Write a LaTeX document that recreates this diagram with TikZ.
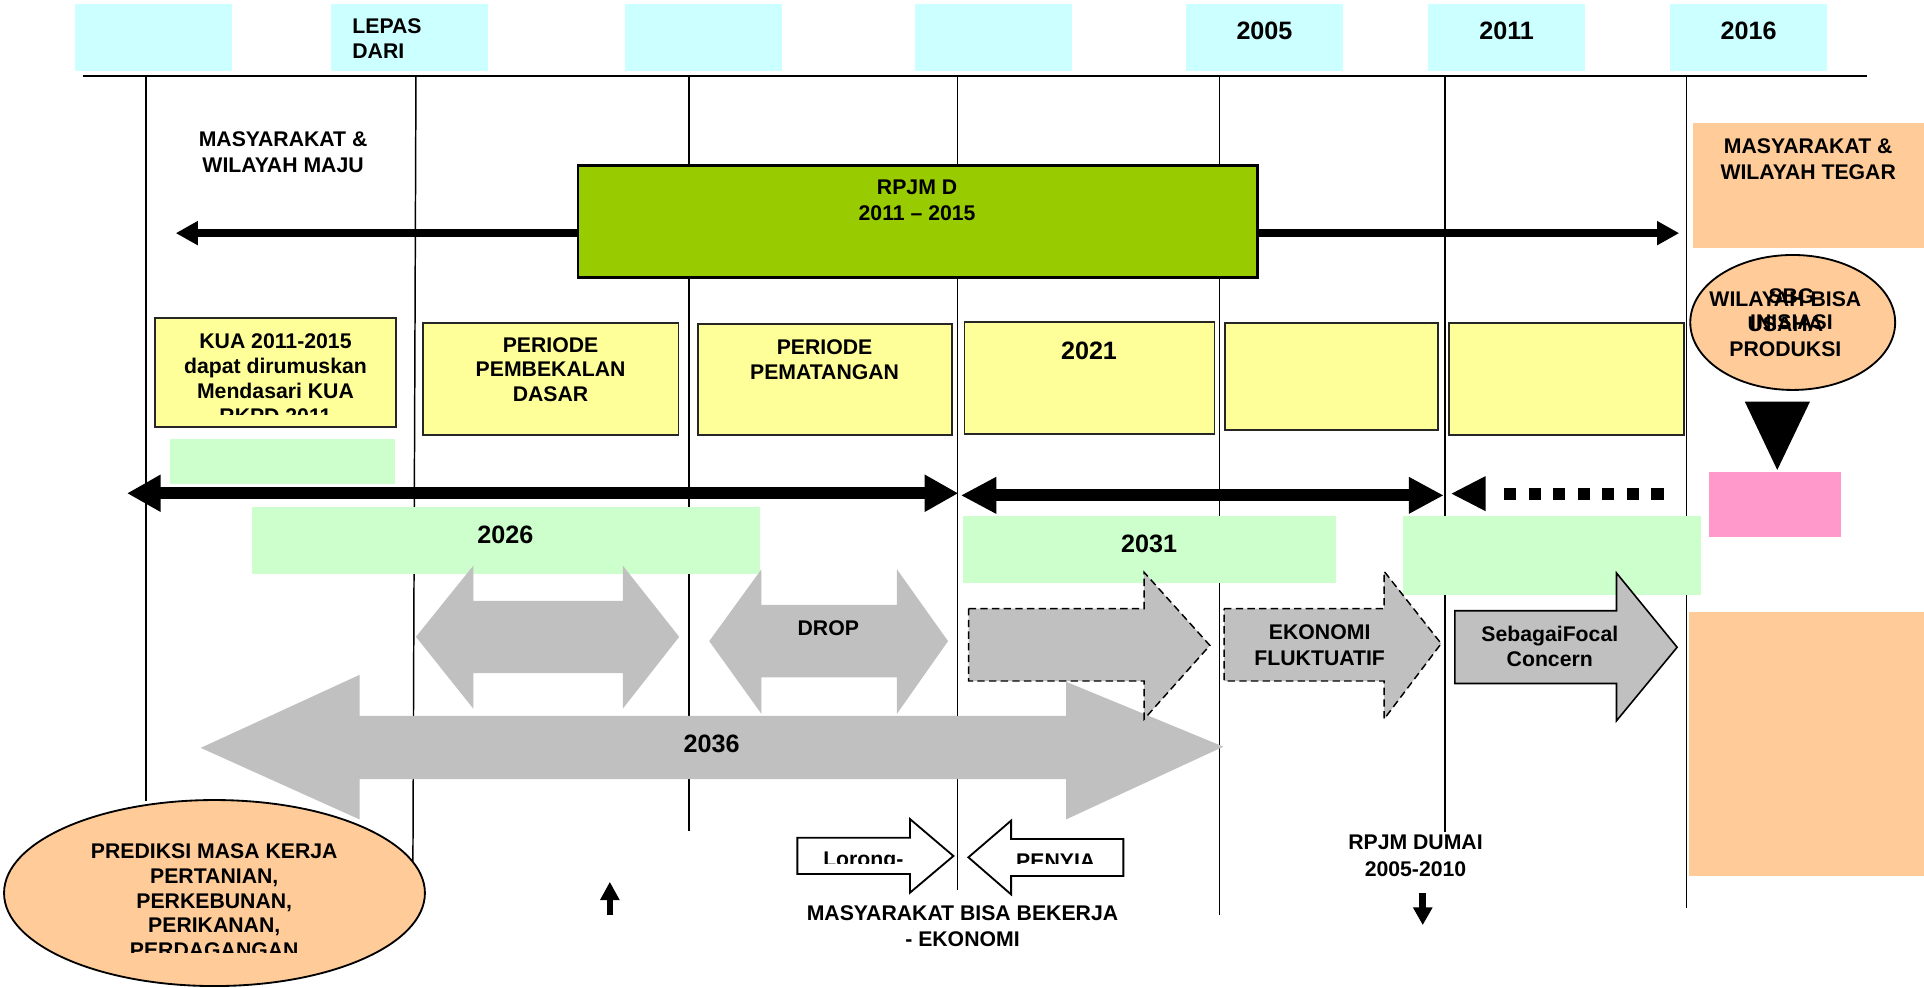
\documentclass[tikz,border=0pt]{standalone}
\usepackage{fontspec}
\setmainfont{Liberation Sans}
\usetikzlibrary{arrows.meta}
\definecolor{cyanbox}{HTML}{CCFFFF}
\definecolor{yellowbox}{HTML}{FFFF99}
\definecolor{greenbox}{HTML}{CCFFCC}
\definecolor{rpjmgreen}{HTML}{99CC00}
\definecolor{orangebox}{HTML}{FFCC99}
\definecolor{pinkbox}{HTML}{FF99CC}
\definecolor{grayarrow}{HTML}{C0C0C0}
\begin{document}
\begin{tikzpicture}[x=1pt,y=-1pt,
  txt/.style={font=\fontsize{17.3}{20.5}\selectfont\bfseries, inner sep=0pt, align=center},
  big/.style={font=\fontsize{20.5}{24}\selectfont\bfseries, inner sep=0pt},
  vline/.style={line width=1.2pt},
  ybox/.style={fill=yellowbox, draw=black!85, line width=1.5pt},
  gbox/.style={fill=greenbox},
  cbox/.style={fill=cyanbox},
  garrow/.style={fill=grayarrow},
  dasharrow/.style={fill=grayarrow, draw=black, line width=1.2pt, dash pattern=on 6pt off 3.5pt},
  solidarrow/.style={fill=grayarrow, draw=black, line width=1.3pt},
  warrow/.style={fill=white, draw=black, line width=1.5pt, line join=miter},
]
\fill[white] (0,0) rectangle (1568,805);
\useasboundingbox (0,0) rectangle (1568,805);

% top cyan boxes
\fill[cbox] (61,3) rectangle (189,57.6);
\fill[cbox] (270,3) rectangle (398,57.6);
\fill[cbox] (509.5,3) rectangle (637.5,57.6);
\fill[cbox] (745.7,3) rectangle (873.6,57.6);
\fill[cbox] (966.6,3) rectangle (1094.5,57.6);
\fill[cbox] (1163.8,3) rectangle (1291.8,57.6);
\fill[cbox] (1361,3) rectangle (1489,57.6);
\node[txt, anchor=north west, align=left, font=\fontsize{17.3}{20.3}\selectfont\bfseries] (lepas) at (287,14.8) {LEPAS\\DARI};
\node[big, anchor=base] (y2005) at (1030.5,32.5) {2005};
\node[big, anchor=base] (y2011) at (1227.8,32.5) {2011};
\node[big, anchor=base] (y2016) at (1425,32.5) {2016};

% time axis and vertical lines
\coordinate (hL) at (67.4,62);
\coordinate (hR) at (1521.3,62);
\draw[line width=2pt] (hL) -- (hR);
\draw[vline] (119,62) -- (119,653);
\draw[vline] (339,62) -- (336.5,706);
\draw[vline] (561.5,62) -- (561.5,677);
\draw[vline] (780.5,62) -- (780.5,725);
\draw[vline] (994,62) -- (994,745.5);
\draw[vline] (1177.5,62) -- (1177.5,678);
\draw[vline] (1374.6,62) -- (1374.6,740);

\node[txt, anchor=north, font=\fontsize{17.3}{21}\selectfont\bfseries] (maju) at (230.7,107.5) {MASYARAKAT \&\\WILAYAH MAJU};

% long arrow and RPJM box
\coordinate (aL) at (143.2,190);
\coordinate (aR) at (1368.5,190);
\draw[line width=6.8pt, {Triangle[length=18pt,width=18.5pt]}-{Triangle[length=18pt,width=18.5pt]}] (aL) -- (aR);
\draw[fill=rpjmgreen, draw=black, line width=2pt] (471,135) rectangle (1024.7,226.3);
\node[txt, anchor=north, font=\fontsize{17.3}{20.9}\selectfont\bfseries] (rpjm) at (747.4,146.8) {RPJM D\\2011 – 2015};

% right column
\fill[orangebox] (1380,100.5) rectangle (1570,202.4);
\node[txt, anchor=north, font=\fontsize{17.3}{21.3}\selectfont\bfseries] (tegar) at (1473.6,112.5) {MASYARAKAT \&\\WILAYAH TEGAR};
\draw[fill=orangebox, draw=black, line width=1.5pt] (1461,262.8) ellipse [x radius=83.5, y radius=55];
\node[txt, anchor=north, font=\fontsize{17.3}{20.2}\selectfont\bfseries] (wila) at (1455,237.7) {WILAYAH BISA\\USAHA\\PRODUKSI};
\node[txt, anchor=north, font=\fontsize{17.3}{21.3}\selectfont\bfseries] (sbg) at (1460,234.8) {SBG\\INISIASI};
\fill[black] (1422,327.4) -- (1475,327.4) -- (1448.4,383) -- cycle;
\fill[pinkbox] (1393,384.4) rectangle (1500.4,438);
\fill[orangebox] (1376.5,499) rectangle (1570,714);

% yellow boxes
\draw[ybox] (126.3,259.4) rectangle (322.7,348.3);
\begin{scope}
\clip (126.3,259.4) rectangle (322.7,338.2);
\node[txt, anchor=north, font=\fontsize{17.3}{20.3}\selectfont\bfseries] (kua) at (224.5,271.7) {KUA 2011-2015\\dapat dirumuskan\\Mendasari KUA\\RKPD 2011};
\end{scope}
\draw[ybox] (344.5,263) rectangle (553,354.5);
\node[txt, anchor=north, font=\fontsize{17.3}{20}\selectfont\bfseries] (bekal) at (448.7,274.9) {PERIODE\\PEMBEKALAN\\DASAR};
\draw[ybox] (568.5,264) rectangle (775.9,354.5);
\node[txt, anchor=north, font=\fontsize{17.3}{20.4}\selectfont\bfseries] (matang) at (672,276.3) {PERIODE\\PEMATANGAN};
\draw[ybox] (786,262.7) rectangle (989.8,353.7);
\node[big, anchor=base] (y2021) at (887.5,292.6) {2021};
\draw[ybox] (998.6,263) rectangle (1172,350.5);
\draw[ybox] (1180.6,263) rectangle (1372.6,354.5);

% light green boxes
\fill[gbox] (138.6,357.8) rectangle (322,394.5);
\fill[gbox] (205.6,413) rectangle (619.4,468);
\node[big, anchor=base] (y2026) at (411.8,442.9) {2026};
\fill[gbox] (785,420.6) rectangle (1089,475.5);
\node[big, anchor=base] (y2031) at (936.5,450.1) {2031};
\fill[gbox] (1143,420.5) rectangle (1386.3,485);

% black double arrows
\coordinate (bL) at (103.5,402);
\coordinate (bR) at (781,402);
\draw[line width=10pt, {Triangle[length=27.5pt,width=28.5pt]}-{Triangle[length=27.5pt,width=28.5pt]}] (bL) -- (bR);
\coordinate (cL) at (783,403.7);
\coordinate (cR) at (1176.6,403.7);
\draw[line width=10pt, {Triangle[length=29pt,width=28pt]}-{Triangle[length=28.5pt,width=28pt]}] (cL) -- (cR);
\coordinate (dTip) at (1183,402.3);
\coordinate (dS) at (1225.7,402.3);
\coordinate (dE) at (1355.7,402.3);
\fill[black] (dTip) -- (1210.7,388) -- (1210.7,416.6) -- cycle;
\draw[line width=10pt, dash pattern=on 10pt off 10pt] (dS) -- (dE);

% gray block arrows
\fill[garrow] (339,519) -- (385.7,461) -- (385.7,489.6) -- (507.6,489.6) -- (507.6,461) -- (553.5,519) -- (507.6,577.5) -- (507.6,548.5) -- (385.7,548.5) -- (385.7,577.5) -- cycle;
\fill[garrow] (578,522.5) -- (620.5,464) -- (620.5,493) -- (731,493) -- (731,464) -- (772.6,522.5) -- (731,581.7) -- (731,552) -- (620.5,552) -- (620.5,581.7) -- cycle;
\node[txt, anchor=base] (drop) at (675,518.2) {DROP};
\fill[garrow] (163.6,609.5) -- (293,550) -- (293,583.5) -- (868.8,583.5) -- (868.8,555.6) -- (997,608.5) -- (868.8,667.8) -- (868.8,635) -- (293,635) -- (293,667.8) -- cycle;
\node[big, anchor=base] (y2036) at (580,613.3) {2036};
\draw[dasharrow] (789.4,496) -- (932.5,496) -- (932.5,466.5) -- (986,526) -- (932.5,586) -- (932.5,555) -- (789.4,555) -- cycle;
\draw[dasharrow] (997.6,496) -- (1128,496) -- (1128,465.6) -- (1174.5,524.5) -- (1128,586) -- (1128,555) -- (997.6,555) -- cycle;
\node[txt, anchor=north, font=\fontsize{17.3}{21}\selectfont\bfseries] (eko) at (1075.5,508.8) {EKONOMI\\FLUKTUATIF};
\draw[solidarrow] (1185.6,497.7) -- (1317.4,497.7) -- (1317.4,467) -- (1366.8,527.5) -- (1317.4,587.4) -- (1317.4,557) -- (1185.6,557) -- cycle;
\node[txt, anchor=north] (focal) at (1263,510.3) {SebagaiFocal\\Concern};

% prediction ellipse
\draw[fill=orangebox, draw=black, line width=1.5pt] (174.8,727.8) ellipse [x radius=171.5, y radius=75.8];
\begin{scope}
\clip (0,640) rectangle (350,776.4);
\node[txt, anchor=north, font=\fontsize{17.3}{20.1}\selectfont\bfseries] (pred) at (174.6,687.6) {PREDIKSI MASA KERJA\\PERTANIAN,\\PERKEBUNAN,\\PERIKANAN,\\PERDAGANGAN};
\end{scope}

% white arrows
\draw[warrow] (649.8,682.7) -- (741.6,682.7) -- (741.6,667.5) -- (777,697.6) -- (741.6,727.5) -- (741.6,712.3) -- (649.8,712.3) -- cycle;
\draw[warrow] (789.2,698.7) -- (824,668.8) -- (824,683.8) -- (915.5,683.8) -- (915.5,713.9) -- (824,713.9) -- (824,728.9) -- cycle;
\begin{scope}
\clip (650,684) rectangle (915,703.6);
\node[txt, anchor=base] (lorong) at (703.6,706.5) {Lorong-};
\node[txt, anchor=base] (penyia) at (860.4,707.5) {PENYIA};
\end{scope}
\node[txt, anchor=north, font=\fontsize{17.3}{21}\selectfont\bfseries] (bekerja) at (784.4,738.2) {MASYARAKAT BISA BEKERJA\\- EKONOMI};
\node[txt, anchor=north, font=\fontsize{17.3}{22}\selectfont\bfseries] (dumai) at (1153.6,680) {RPJM DUMAI\\2005-2010};

% small arrows
\coordinate (upS) at (497,745.8);
\coordinate (upE) at (497,718.6);
\draw[line width=5.4pt, -{Triangle[length=15pt,width=15pt]}] (upS) -- (upE);
\coordinate (dnS) at (1159.5,728);
\coordinate (dnE) at (1159.5,753.9);
\draw[line width=5.4pt, -{Triangle[length=14.4pt,width=15pt]}] (dnS) -- (dnE);
\end{tikzpicture}
\end{document}
